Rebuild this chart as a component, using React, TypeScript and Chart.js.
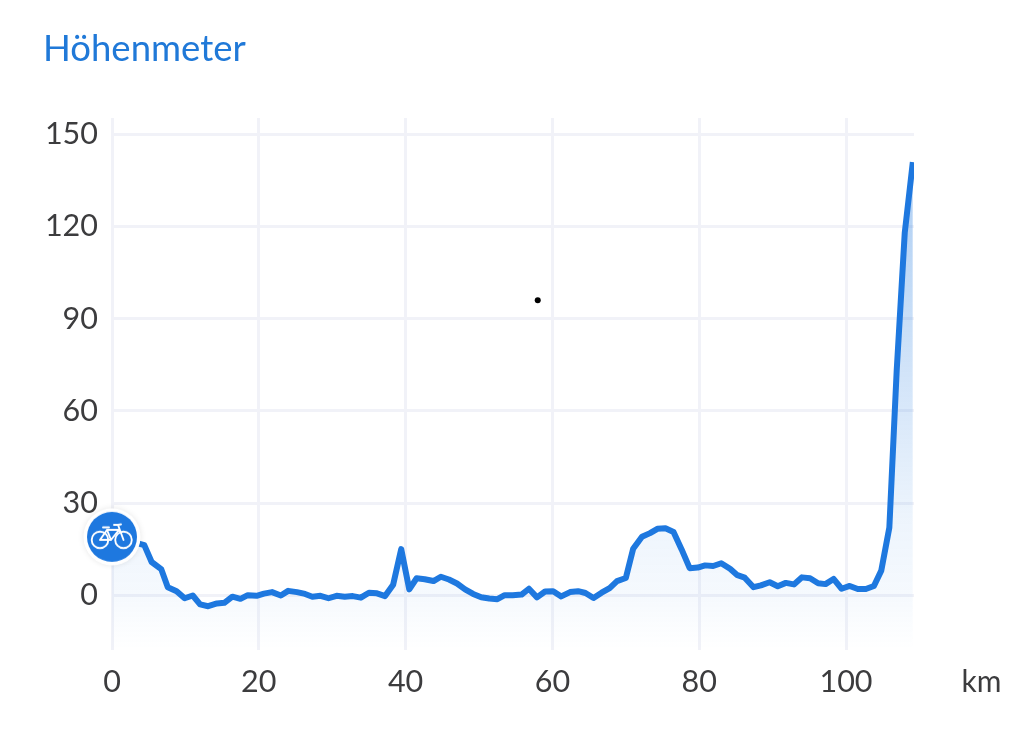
import React, { useEffect, useRef } from "react";
import { Chart, registerables } from "chart.js";

Chart.register(...registerables);

const titleText = "Höhenmeter";
const unitLabel = "km";
const xTickValues = [0, 20, 40, 60, 80, 100];
const yTickValues = [0, 30, 60, 90, 120, 150];

const kmValues = [
  0, 1.1, 2.2, 3.3, 4.4, 5.4, 6.7, 7.6, 8.8, 9.9, 11, 12, 13.1, 14.3, 15.3, 16.4, 17.5, 18.5, 19.7, 20.7,
  21.8, 23, 24, 25.2, 26.3, 27.3, 28.4, 29.5, 30.6, 31.7, 32.8, 33.9, 35, 36.1, 37.2, 38.3, 39.4, 40.5, 41.5, 42.6,
  43.8, 44.8, 45.9, 47, 48.1, 49.2, 50.3, 51.4, 52.5, 53.5, 54.6, 55.8, 56.8, 57.9, 59, 60.1, 61.2, 62.4, 63.5, 64.5,
  65.6, 66.7, 67.8, 68.8, 70, 71, 72.2, 73.3, 74.3, 75.4, 76.5, 77.6, 78.7, 79.8, 80.8, 81.9, 83, 84.2, 85.2, 86.2,
  87.4, 88.4, 89.6, 90.7, 91.8, 92.9, 94, 95.1, 96.2, 97.2, 98.3, 99.4, 100.5, 101.6, 102.7, 103.8, 104.8, 105.9, 106.9, 108,
  109.1,
];
const elevationValues = [
  19, 19, 19, 17, 16.3, 10.8, 8.5, 2.6, 1.3, -1, -0.1, -3, -3.6, -2.7, -2.5, -0.5, -1.2, 0, -0.2, 0.5,
  1, -0.1, 1.4, 1, 0.4, -0.5, -0.2, -1, -0.2, -0.5, -0.3, -0.8, 0.8, 0.6, -0.3, 3.4, 15, 1.9, 5.5, 5.2,
  4.6, 6, 5.1, 3.8, 1.9, 0.4, -0.7, -1.1, -1.3, 0, 0, 0.2, 2.1, -0.7, 1.2, 1.3, -0.4, 1, 1.3, 0.7,
  -0.9, 0.8, 2.3, 4.6, 5.6, 15.1, 19, 20.2, 21.6, 21.8, 20.6, 14.9, 8.8, 9, 9.7, 9.5, 10.4, 8.6, 6.5, 5.7,
  2.6, 3.2, 4.2, 2.9, 4, 3.5, 5.8, 5.5, 3.9, 3.6, 5.3, 2.1, 3, 2, 2, 3, 8, 22, 73, 118,
  141,
];
const markerPosition = [{ x: 0, y: 19 }];
const dotPosition = [{ x: 58, y: 96 }];

const BLUE = "#1e78df";
const TEXT = "#3c3c3e";
const GRID = "#f1f2f8";
const FONT = "Lato";

function makeMarker(): HTMLCanvasElement {
  const c = document.createElement("canvas");
  c.width = 72;
  c.height = 72;
  const g = c.getContext("2d")!;
  g.translate(36, 36);
  g.save();
  g.shadowColor = "rgba(0,0,0,0.10)";
  g.shadowBlur = 6;
  g.fillStyle = "#ffffff";
  g.beginPath();
  g.arc(0, 0, 28.5, 0, Math.PI * 2);
  g.fill();
  g.restore();
  g.fillStyle = BLUE;
  g.beginPath();
  g.arc(0, 0, 25, 0, Math.PI * 2);
  g.fill();
  g.strokeStyle = "#ffffff";
  g.lineWidth = 1.9;
  g.lineCap = "round";
  g.lineJoin = "round";
  for (const cx of [-12, 11.5]) {
    g.beginPath();
    g.arc(cx, 3, 8.3, 0, Math.PI * 2);
    g.stroke();
  }
  g.beginPath();
  g.moveTo(-12, 3);
  g.lineTo(-5, -7);
  g.lineTo(7, -7);
  g.lineTo(-1, 3);
  g.lineTo(-12, 3);
  g.moveTo(-5, -7);
  g.lineTo(-1, 3);
  g.moveTo(11.5, 3);
  g.lineTo(6, -12);
  g.lineTo(2, -12);
  g.moveTo(6, -12);
  g.lineTo(9, -12.5);
  g.moveTo(-9, -9.5);
  g.lineTo(-3, -9.5);
  g.stroke();
  return c;
}

export default function App() {
  const ref = useRef<HTMLCanvasElement | null>(null);

  useEffect(() => {
    document.body.style.margin = "0";
    const canvas = ref.current!;

    const unitPlugin = {
      id: "unitLabel",
      afterDraw(chart: any) {
        const { ctx, chartArea } = chart;
        ctx.save();
        ctx.font = `30px ${FONT}`;
        ctx.fillStyle = TEXT;
        ctx.textAlign = "center";
        ctx.textBaseline = "middle";
        ctx.fillText(unitLabel, chartArea.right + 67.5, chartArea.bottom + 32);
        ctx.restore();
      },
    };

    const fillGradient = (ctx: any) => {
      const { chart } = ctx;
      const area = chart.chartArea;
      if (!area) return "rgba(30,120,223,0.1)";
      const h = area.bottom - area.top;
      const grad = chart.ctx.createLinearGradient(0, area.top, 0, area.bottom);
      const stop = (y: number, a: number) =>
        grad.addColorStop((y - area.top) / h, `rgba(30,120,223,${a})`);
      stop(area.top, 0.4);
      stop(300, 0.26);
      stop(400, 0.18);
      stop(520, 0.08);
      stop(594, 0.045);
      stop(area.bottom, 0.0);
      return grad;
    };

    const chart = new Chart(canvas, {
      type: "line",
      data: {
        datasets: [
          {
            label: "Start",
            data: markerPosition,
            showLine: false,
            pointStyle: makeMarker(),
            pointRadius: 36,
            clip: false,
            order: 0,
          },
          {
            label: "Punkt",
            data: dotPosition,
            showLine: false,
            pointRadius: 3,
            pointBackgroundColor: "#000000",
            pointBorderWidth: 0,
            order: 1,
          },
          {
            label: titleText,
            data: kmValues.map((x, i) => ({ x, y: elevationValues[i] })),
            borderColor: BLUE,
            borderWidth: 6,
            borderJoinStyle: "round",
            pointRadius: 0,
            tension: 0,
            fill: "start",
            backgroundColor: fillGradient,
            order: 2,
          },
        ],
      } as any,
      options: {
        animation: false,
        responsive: true,
        maintainAspectRatio: false,
        events: [],
        layout: { padding: { top: 27, left: 43, right: 110, bottom: 0 } },
        plugins: {
          legend: { display: false },
          tooltip: { enabled: false },
          title: {
            display: true,
            text: titleText,
            align: "start",
            color: "#2079d8",
            font: { family: FONT, size: 36.5, weight: "normal" },
            padding: { top: 0, bottom: 47.2 },
          },
        },
        scales: {
          x: {
            type: "linear",
            min: 0,
            max: 109.26,
            afterFit: (s: any) => {
              s.height = 92;
            },
            afterBuildTicks: (s: any) => {
              s.ticks = xTickValues.map((value) => ({ value }));
            },
            grid: { color: GRID, lineWidth: 3, drawTicks: false },
            border: { display: false },
            ticks: {
              color: TEXT,
              padding: 14,
              maxRotation: 0,
              font: { family: FONT, size: 30.5 },
            },
          },
          y: {
            type: "linear",
            min: -17.85,
            max: 155.36,
            afterFit: (s: any) => {
              s.width = 69;
            },
            afterBuildTicks: (s: any) => {
              s.ticks = yTickValues.map((value) => ({ value }));
            },
            grid: { color: GRID, lineWidth: 3, drawTicks: false },
            border: { display: false },
            ticks: {
              color: TEXT,
              padding: 14,
              font: { family: FONT, size: 30.5 },
            },
          },
        },
      } as any,
      plugins: [unitPlugin],
    });

    return () => chart.destroy();
  }, []);

  return (
    <div style={{ position: "fixed", left: 0, top: 0, width: 1024, height: 742, background: "#ffffff" }}>
      <canvas ref={ref} />
    </div>
  );
}
